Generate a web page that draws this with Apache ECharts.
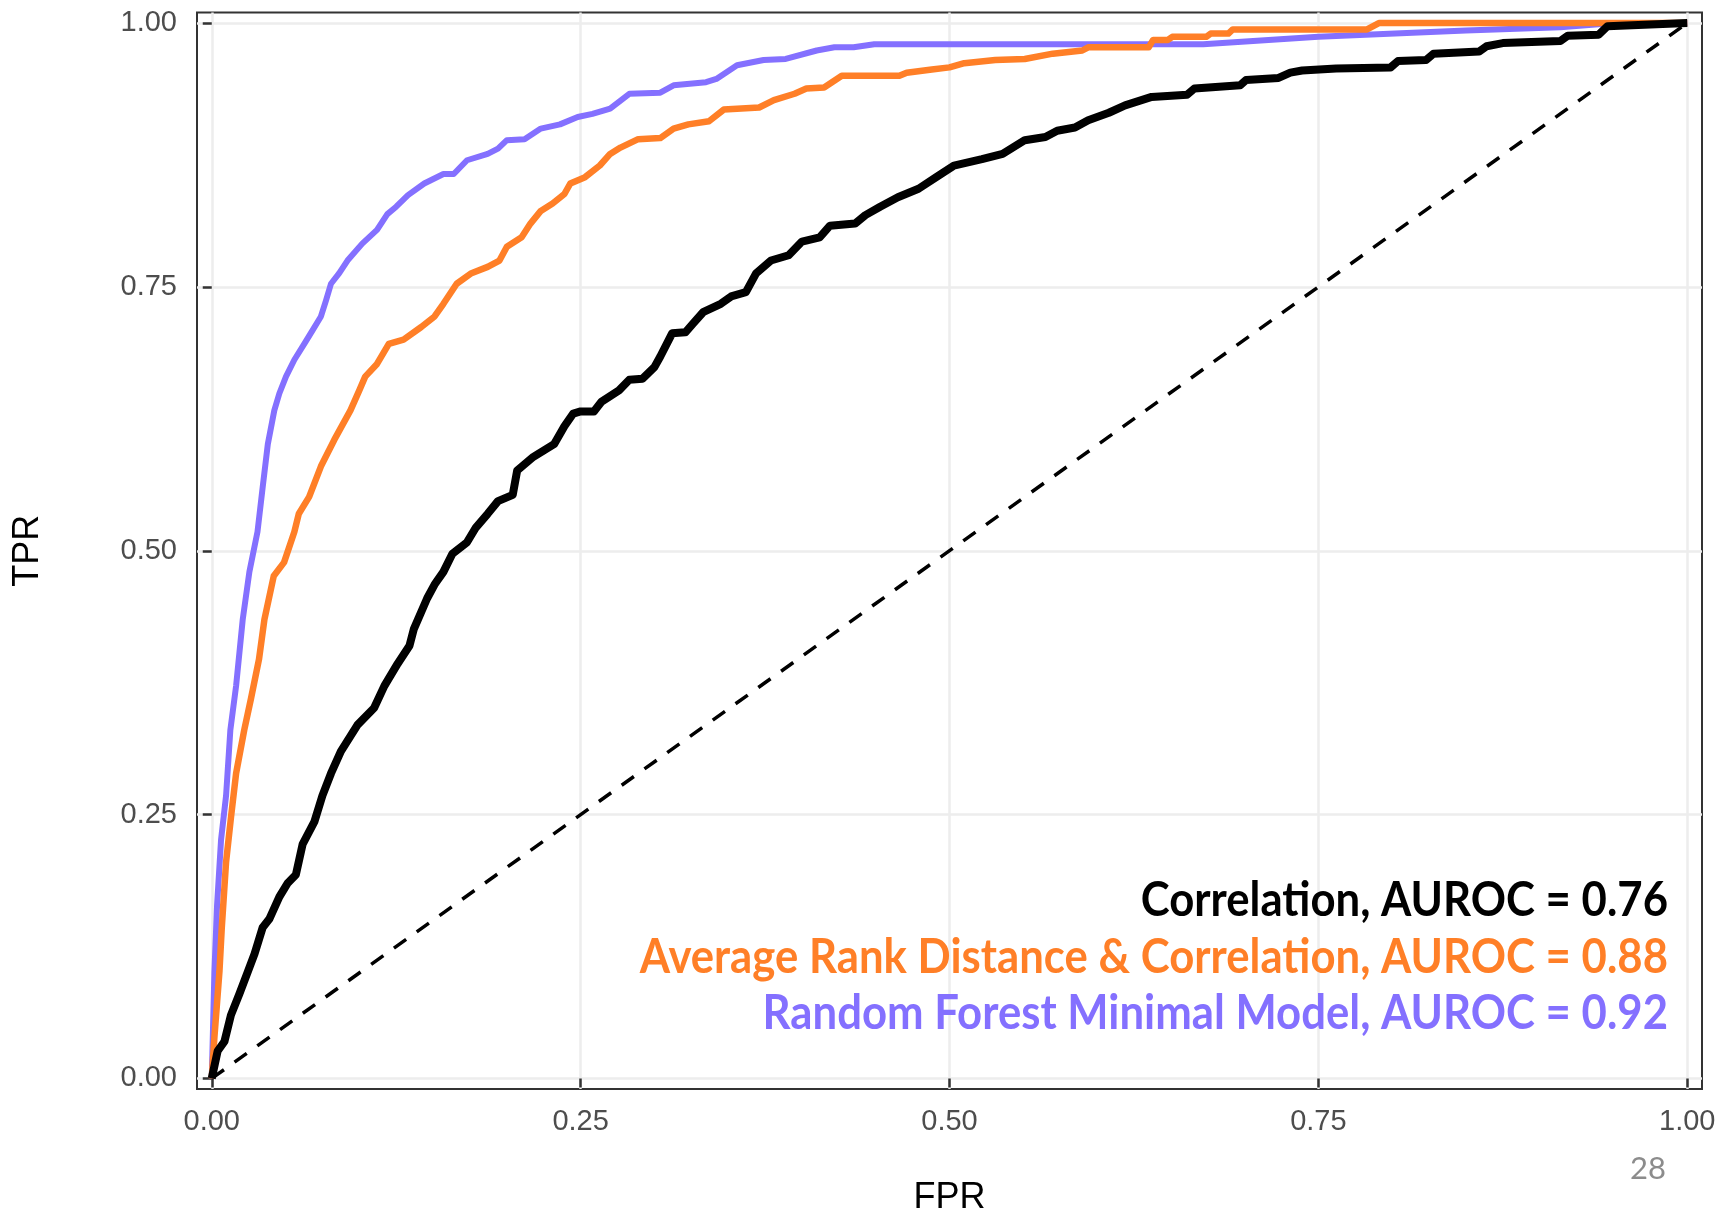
<!DOCTYPE html>
<html><head><meta charset="utf-8">
<script src="https://cdn.jsdelivr.net/npm/echarts@6/dist/echarts.min.js"></script>
<style>html,body{margin:0;padding:0;background:#fff}#c{width:1736px;height:1212px}</style>
</head><body><div id="c"></div>
<script>
// ---- data ----
const tickValues = [0, 0.25, 0.5, 0.75, 1];
const tickLabels = ['0.00', '0.25', '0.50', '0.75', '1.00'];
const xTitle = 'FPR';
const yTitle = 'TPR';
const seriesNames = ['Correlation', 'Average Rank Distance & Correlation', 'Random Forest Minimal Model'];
const aurocValues = [0.76, 0.88, 0.92];
const pageNumber = '28';

const correlationROC = [
  [0,0],[0.004,0.026],[0.0086,0.035],[0.013,0.06],[0.0187,0.08],[0.0244,0.101],[0.029,0.118],
  [0.0345,0.143],[0.039,0.151],[0.0458,0.172],[0.0514,0.185],[0.057,0.193],[0.0616,0.222],
  [0.0695,0.243],[0.075,0.268],[0.0808,0.289],[0.0875,0.31],[0.0988,0.335],[0.110,0.351],
  [0.117,0.372],[0.126,0.393],[0.134,0.41],[0.137,0.426],[0.146,0.455],[0.151,0.468],
  [0.157,0.48],[0.163,0.497],[0.173,0.508],[0.179,0.522],[0.187,0.535],[0.194,0.547],
  [0.204,0.553],[0.207,0.576],[0.218,0.589],[0.232,0.601],[0.239,0.618],[0.245,0.630],
  [0.250,0.632],[0.259,0.632],[0.264,0.641],[0.276,0.652],[0.283,0.662],[0.292,0.663],
  [0.300,0.674],[0.304,0.684],[0.312,0.706],[0.321,0.707],[0.326,0.715],[0.333,0.726],
  [0.345,0.734],[0.352,0.741],[0.362,0.745],[0.369,0.763],[0.379,0.775],[0.391,0.780],
  [0.400,0.793],[0.412,0.797],[0.419,0.808],[0.436,0.810],[0.443,0.818],[0.453,0.826],
  [0.465,0.835],[0.479,0.843],[0.491,0.854],[0.503,0.865],[0.522,0.871],[0.536,0.876],
  [0.551,0.889],[0.565,0.892],[0.573,0.898],[0.585,0.901],[0.594,0.908],[0.608,0.915],
  [0.619,0.922],[0.637,0.930],[0.661,0.932],[0.666,0.938],[0.697,0.941],[0.701,0.946],
  [0.723,0.948],[0.731,0.953],[0.739,0.955],[0.762,0.957],[0.799,0.958],[0.804,0.964],
  [0.823,0.965],[0.828,0.971],[0.859,0.973],[0.864,0.978],[0.875,0.981],[0.914,0.983],
  [0.919,0.988],[0.940,0.989],[0.946,0.997],[1,1]
];
const averageRankROC = [
  [0,0],[0.0018,0.039],[0.0052,0.101],[0.0068,0.143],[0.0097,0.205],[0.013,0.247],[0.0165,0.289],
  [0.022,0.33],[0.0266,0.36],[0.032,0.397],[0.0357,0.435],[0.042,0.476],[0.049,0.489],
  [0.056,0.518],[0.059,0.535],[0.066,0.551],[0.074,0.58],[0.083,0.605],[0.094,0.633],
  [0.100,0.652],[0.104,0.665],[0.112,0.677],[0.120,0.696],[0.130,0.700],[0.142,0.712],
  [0.151,0.722],[0.157,0.734],[0.166,0.753],[0.176,0.763],[0.187,0.769],[0.195,0.775],
  [0.200,0.788],[0.210,0.797],[0.216,0.810],[0.223,0.822],[0.231,0.829],[0.239,0.838],
  [0.243,0.848],[0.253,0.854],[0.263,0.865],[0.270,0.876],[0.277,0.882],[0.289,0.890],
  [0.304,0.891],[0.313,0.900],[0.323,0.904],[0.337,0.907],[0.347,0.918],[0.371,0.920],
  [0.381,0.927],[0.395,0.933],[0.403,0.938],[0.415,0.939],[0.427,0.950],[0.466,0.950],
  [0.471,0.953],[0.488,0.956],[0.500,0.958],[0.510,0.962],[0.531,0.965],[0.551,0.966],
  [0.570,0.971],[0.590,0.974],[0.594,0.977],[0.635,0.977],[0.638,0.984],[0.648,0.984],
  [0.651,0.987],[0.674,0.987],[0.677,0.990],[0.689,0.990],[0.692,0.994],[0.783,0.994],
  [0.791,1.0],[1,1]
];
const randomForestROC = [
  [0,0],[0.0018,0.101],[0.0036,0.164],[0.0063,0.226],[0.0097,0.268],[0.0126,0.33],[0.0165,0.372],
  [0.021,0.435],[0.0255,0.48],[0.031,0.518],[0.0345,0.56],[0.038,0.601],[0.0424,0.633],
  [0.0458,0.649],[0.0503,0.665],[0.056,0.681],[0.0627,0.696],[0.0684,0.709],[0.074,0.722],
  [0.0774,0.737],[0.0808,0.753],[0.0864,0.763],[0.092,0.775],[0.102,0.791],[0.112,0.804],
  [0.119,0.819],[0.125,0.826],[0.133,0.837],[0.144,0.848],[0.157,0.857],[0.164,0.857],
  [0.173,0.870],[0.187,0.876],[0.194,0.881],[0.200,0.889],[0.212,0.890],[0.223,0.900],
  [0.236,0.904],[0.248,0.911],[0.258,0.914],[0.270,0.919],[0.283,0.933],[0.304,0.934],
  [0.313,0.941],[0.335,0.944],[0.342,0.947],[0.356,0.960],[0.374,0.965],[0.389,0.966],
  [0.410,0.974],[0.422,0.977],[0.435,0.977],[0.449,0.980],[0.672,0.980],[0.75,0.987],
  [0.85,0.993],[0.914,0.996],[0.942,0.999],[1,1]
];
const chanceLine = [[0,0],[1,1]];

// ---- styling ----
const colors = ['#000000', '#FF7F27', '#8470FF'];
const lineWidths = [8, 6.5, 6];
const rocData = [correlationROC, averageRankROC, randomForestROC];

function tickLabel(v) {
  const i = tickValues.findIndex(t => Math.abs(t - v) < 1e-9);
  return i >= 0 ? tickLabels[i] : '';
}

const axisCommon = {
  type: 'value', min: -0.01, max: 1.01,
  axisLine: { show: false },
  axisTick: { show: true, length: 9, customValues: tickValues, lineStyle: { color: '#333333', width: 2.5 } },
  splitLine: { show: true, lineStyle: { color: '#EDEDED', width: 2.5 } },
  nameLocation: 'middle',
  nameTextStyle: { fontFamily: 'Liberation Sans', fontSize: 36, color: '#000' }
};

const chart = echarts.init(document.getElementById('c'), null, { renderer: 'canvas' });
chart.setOption({
  animation: false,
  backgroundColor: '#ffffff',
  grid: { left: 197, right: 34, top: 12.5, bottom: 123, show: true, borderColor: '#333333', borderWidth: 2, backgroundColor: '#fff', outerBoundsMode: 'none' },
  xAxis: Object.assign({}, axisCommon, {
    name: xTitle, nameGap: 91,
    axisLabel: { customValues: tickValues, formatter: tickLabel, fontFamily: 'Liberation Sans', fontSize: 29, color: '#4D4D4D', margin: 18 }
  }),
  yAxis: Object.assign({}, axisCommon, {
    name: yTitle, nameGap: 151, nameRotate: 90,
    axisLabel: { customValues: tickValues, formatter: tickLabel, fontFamily: 'Liberation Sans', fontSize: 29, color: '#4D4D4D', margin: 20 }
  }),
  series: [
    { type: 'line', name: 'chance', data: chanceLine, showSymbol: false, symbol: 'none', z: 1,
      lineStyle: { color: '#000', width: 3.5, type: [15, 13] } },
    ...[2, 1, 0].map(i => ({
      type: 'line', name: seriesNames[i], data: rocData[i], showSymbol: false, symbol: 'none',
      z: 2 + (2 - i), lineStyle: { color: colors[i], width: lineWidths[i], join: 'round', cap: 'butt' }
    }))
  ],
  graphic: [
    ...seriesNames.map((n, i) => ({
      type: 'text', x: 1668, y: 901 + i * 56.5, scaleX: 0.93, z: 100,
      style: { text: n + ', AUROC = ' + aurocValues[i].toFixed(2), fill: colors[i],
        fontFamily: 'Lato', fontWeight: 'bold', fontSize: 47, align: 'right', verticalAlign: 'middle' }
    })),
    { type: 'text', x: 1666, y: 1169, z: 100,
      style: { text: pageNumber, fill: '#8C8C8C', fontFamily: 'Lato', fontSize: 31, align: 'right', verticalAlign: 'middle' } }
  ]
});
</script>
</body></html>
